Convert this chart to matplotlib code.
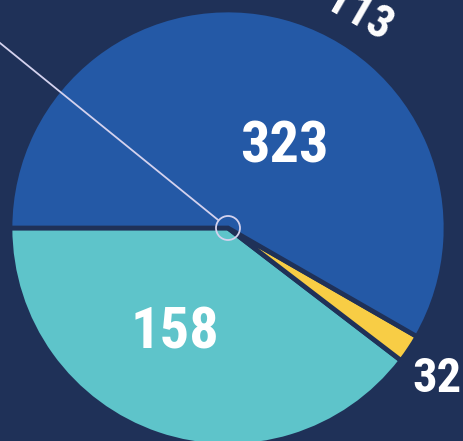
import matplotlib
matplotlib.use("Agg")
import matplotlib.pyplot as plt
from matplotlib.patches import Circle
from matplotlib import font_manager as fm
import numpy as np

# Data (angular shares, % of the full circle)
categories = ["Teal", "Yellow", "Blue"]
shares = [39.6, 2.1, 58.3]
value_labels = ["158", "32", "323"]
top_label = "Total: 113"

BG = "#1f3158"
colors = ["#5ec4ca", "#f8cd45", "#2459a6"]

# pick a condensed font if one is installed
names = {f.name for f in fm.fontManager.ttflist}
prefs = ["Roboto Condensed", "Open Sans Condensed", "Liberation Sans Narrow",
         "DejaVu Sans Condensed", "Noto Sans Condensed"]
family = None
for p in prefs:
    if p in names:
        family = p
        break
stretch = "normal"
if family is None:
    for f in fm.fontManager.ttflist:
        if f.name in ("Noto Sans", "Open Sans", "DejaVu Sans", "Roboto") and \
                str(f.stretch) in ("condensed", "semi-condensed", "extra-condensed"):
            family = f.name
            stretch = f.stretch
            break
if family is None:
    family = "Roboto"
font = [family, "DejaVu Sans"]

W, H = 464, 441
fig = plt.figure(figsize=(W / 100, H / 100), dpi=100, facecolor=BG)
ax = fig.add_axes([0, 0, 1, 1])
ax.set_facecolor(BG)

cx, cy, R = 228, H - 228, 218
ax.pie(shares, colors=colors, startangle=180, counterclock=True,
       center=(cx, cy), radius=R,
       wedgeprops=dict(edgecolor=BG, linewidth=3.4), frame=True)
ax.set_xlim(0, W)
ax.set_ylim(0, H)
ax.set_aspect("equal")
ax.axis("off")

kw = dict(color="white", fontweight="bold", family=font, stretch=stretch)
ax.text(284, H - 147, value_labels[2], fontsize=42, ha="center", va="center", **kw)
ax.text(175, H - 333, value_labels[0], fontsize=42, ha="center", va="center", **kw)
ax.text(437, H - 379, value_labels[1], fontsize=35, ha="center", va="center", **kw)
ax.text(383, H - 41, top_label, fontsize=33, ha="right", va="baseline",
        rotation=-30, rotation_mode="anchor", **kw)

# pointer line and centre ring
r_c = 12
ang = np.arctan2(228 - 43, 228 - 0)
ex, ey = cx - r_c * np.cos(ang), cy + r_c * np.sin(ang)
ax.plot([-5, ex], [H - 43 + 5 * np.tan(ang), ey], color="#d4d2ee", lw=1.3,
        solid_capstyle="butt")
ax.add_patch(Circle((cx, cy), r_c, facecolor="none", edgecolor="#d4d2ee", lw=1.3))

fig.savefig("out.png", dpi=100, facecolor=BG)
